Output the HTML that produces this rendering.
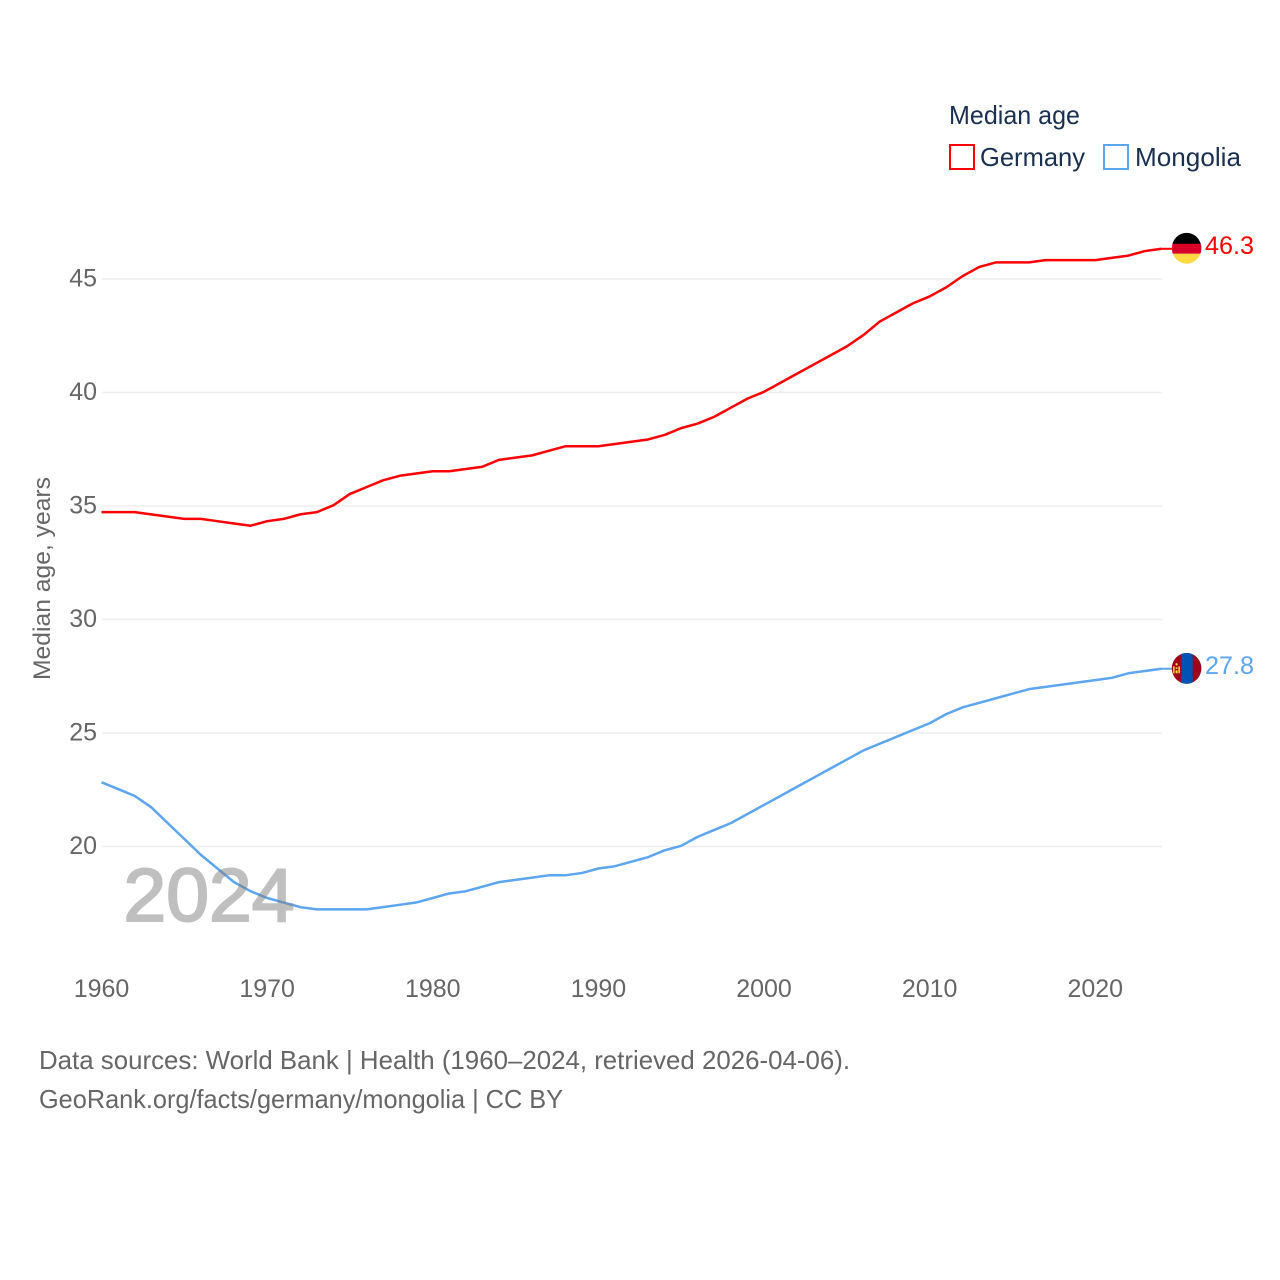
<!DOCTYPE html>
<html lang="en">
<head>
<meta charset="utf-8">
<title>Median age: Germany and Mongolia</title>
<style>
html,body{margin:0;padding:0;background:#fff;}
svg{display:block;font-family:"Liberation Sans",sans-serif;}
</style>
</head>
<body>
<svg id="chart" xmlns="http://www.w3.org/2000/svg" width="1280" height="1280" viewBox="0 0 1280 1280">
  <defs>
    <clipPath id="flag-clip"><ellipse cx="0" cy="0" rx="14.8" ry="15.4"/></clipPath>
  </defs>
  <rect x="0" y="0" width="1280" height="1280" fill="#fff"/>
  <g id="grid"></g>
  <g id="yticks"></g>
  <g id="xticks"></g>
  <text transform="translate(50,680) rotate(-90)" font-size="24.5" fill="#666" textLength="203" lengthAdjust="spacingAndGlyphs">Median age, years</text>
  <g id="lines"></g>
  <text x="123.5" y="921" font-size="75" fill="#808080" stroke="#808080" stroke-width="2" opacity="0.5" textLength="171" lengthAdjust="spacingAndGlyphs">2024</text>
  <g id="ends"></g>
  <g>
    <text x="949" y="124" font-size="26" fill="#1a3050" textLength="131" lengthAdjust="spacingAndGlyphs">Median age</text>
    <g>
      <rect x="950" y="145" width="24" height="24" fill="#fff" stroke="#ff0000" stroke-width="2"/>
      <text x="980" y="166" font-size="26" fill="#1a3050" textLength="105" lengthAdjust="spacingAndGlyphs">Germany</text>
    </g>
    <g>
      <rect x="1104" y="145" width="24" height="24" fill="#fff" stroke="#5da5ee" stroke-width="2"/>
      <text x="1135" y="166" font-size="26" fill="#1a3050" textLength="106" lengthAdjust="spacingAndGlyphs">Mongolia</text>
    </g>
  </g>
  <text x="39" y="1069" font-size="26" fill="#666" textLength="811" lengthAdjust="spacingAndGlyphs">Data sources: World Bank | Health (1960–2024, retrieved 2026-04-06).</text>
  <text x="39" y="1108" font-size="26" fill="#666" textLength="524" lengthAdjust="spacingAndGlyphs">GeoRank.org/facts/germany/mongolia | CC BY</text>
</svg>
<script>
const startYear = 1960;
const yearTicks = [1960, 1970, 1980, 1990, 2000, 2010, 2020];
const valueTicks = [20, 25, 30, 35, 40, 45];
const germanyValues = [34.7,34.7,34.7,34.6,34.5,34.4,34.4,34.3,34.2,34.1,34.3,34.4,34.6,34.7,35.0,35.5,35.8,36.1,36.3,36.4,36.5,36.5,36.6,36.7,37.0,37.1,37.2,37.4,37.6,37.6,37.6,37.7,37.8,37.9,38.1,38.4,38.6,38.9,39.3,39.7,40.0,40.4,40.8,41.2,41.6,42.0,42.5,43.1,43.5,43.9,44.2,44.6,45.1,45.5,45.7,45.7,45.7,45.8,45.8,45.8,45.8,45.9,46.0,46.2,46.3];
const mongoliaValues = [22.8,22.5,22.2,21.7,21.0,20.3,19.6,19.0,18.4,18.0,17.7,17.5,17.3,17.2,17.2,17.2,17.2,17.3,17.4,17.5,17.7,17.9,18.0,18.2,18.4,18.5,18.6,18.7,18.7,18.8,19.0,19.1,19.3,19.5,19.8,20.0,20.4,20.7,21.0,21.4,21.8,22.2,22.6,23.0,23.4,23.8,24.2,24.5,24.8,25.1,25.4,25.8,26.1,26.3,26.5,26.7,26.9,27.0,27.1,27.2,27.3,27.4,27.6,27.7,27.8];

const NS = 'http://www.w3.org/2000/svg';
const xScale = function (year) { return 101.5 + (year - 1960) * (1060 / 64); };
const yScale = function (v) { return 846.5 - (v - 20) * 22.7; };
const lineY = function (v) { return yScale(v) - 0.7; };
function make(tag, parent, attrs) {
  const el = document.createElementNS(NS, tag);
  Object.keys(attrs).forEach(function (k) { el.setAttribute(k, attrs[k]); });
  parent.appendChild(el);
  return el;
}

const grid = document.getElementById('grid');
const yticks = document.getElementById('yticks');
valueTicks.forEach(function (v) {
  const line = make('line', grid, { x1: 102, x2: 1162, y1: yScale(v), y2: yScale(v), stroke: '#eeeeee', 'stroke-width': 1.5 });
  
  
  const label = make('text', yticks, { x: 97, y: yScale(v) + 7.5, 'text-anchor': 'end', 'font-size': 25, fill: '#666' });
  
  
  label.textContent = String(v);
});

const xticks = document.getElementById('xticks');
yearTicks.forEach(function (y) {
  const label = make('text', xticks, { x: xScale(y), y: 997, 'text-anchor': 'middle', 'font-size': 25, fill: '#666' });
  
  
  label.textContent = String(y);
});

const lines = document.getElementById('lines');
const ends = document.getElementById('ends');

function linePoints(values) {
  return values.map(function (v, i) {
    return xScale(startYear + i).toFixed(2) + ',' + lineY(v).toFixed(2);
  }).join(' ');
}

const germanyLine = make('polyline', lines, { points: linePoints(germanyValues), fill: 'none', stroke: '#ff0000', 'stroke-width': 2.5, 'stroke-linejoin': 'round' });



const mongoliaLine = make('polyline', lines, { points: linePoints(mongoliaValues), fill: 'none', stroke: '#5da5ee', 'stroke-width': 2.5, 'stroke-linejoin': 'round' });



function lastPoint(values) {
  const v = values[values.length - 1];
  return { x: xScale(startYear + values.length - 1), y: lineY(v) };
}

/* Germany end marker */
const gEnd = lastPoint(germanyValues);
const gConnector = make('line', ends, { x1: gEnd.x, y1: gEnd.y, x2: 1172, y2: gEnd.y, stroke: '#ff0000', 'stroke-width': 2 });


const gFlag = make('g', ends, { transform: 'translate(1186.6,' + (gEnd.y - 0.5) + ')', 'clip-path': 'url(#flag-clip)' });


make('rect', gFlag, { x: -16, y: -16, width: 32, height: 12, fill: '#000000' });
make('rect', gFlag, { x: -16, y: -4.5, width: 32, height: 10, fill: '#d80027' });
make('rect', gFlag, { x: -16, y: 5.5, width: 32, height: 11, fill: '#ffda44' });
const gValue = make('text', ends, { x: 1205, y: 254, 'font-size': 25, fill: '#ff0000', textLength: 49, lengthAdjust: 'spacingAndGlyphs' });


gValue.textContent = germanyValues[germanyValues.length - 1].toFixed(1);

/* Mongolia end marker */
const mEnd = lastPoint(mongoliaValues);
const mConnector = make('line', ends, { x1: mEnd.x, y1: mEnd.y, x2: 1172, y2: mEnd.y, stroke: '#5da5ee', 'stroke-width': 2 });


const mFlag = make('g', ends, { transform: 'translate(1186.6,' + (mEnd.y - 0.4) + ')', 'clip-path': 'url(#flag-clip)' });


make('rect', mFlag, { x: -16, y: -16, width: 32, height: 32, fill: '#a2001d' });
make('rect', mFlag, { x: -5.3, y: -16, width: 11.4, height: 32, fill: '#0052b4' });
make('rect', mFlag, { x: -13.5, y: -2, width: 1.5, height: 7, fill: '#ffda44' });
make('rect', mFlag, { x: -8.2, y: -2, width: 1.5, height: 7, fill: '#ffda44' });
make('rect', mFlag, { x: -11, y: -1, width: 2, height: 1.5, fill: '#ffda44' });
make('rect', mFlag, { x: -11, y: 2, width: 2, height: 3, fill: '#ffda44' });
make('circle', mFlag, { cx: -10, cy: -4, r: 1.2, fill: '#ffda44' });
const mValue = make('text', ends, { x: 1205, y: 674, 'font-size': 25, fill: '#5da5ee', textLength: 49, lengthAdjust: 'spacingAndGlyphs' });


mValue.textContent = mongoliaValues[mongoliaValues.length - 1].toFixed(1);
</script>
</body>
</html>
